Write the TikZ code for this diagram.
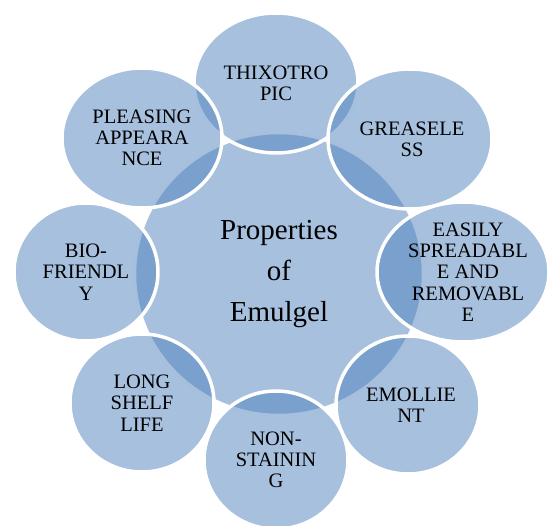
\documentclass[tikz,border=0pt]{standalone}
\usepackage{fontspec}
\setmainfont{Liberation Serif}
\usetikzlibrary{shapes.geometric}
\definecolor{emblue}{HTML}{4F81BD}

\begin{document}
\begin{tikzpicture}[
  x=1pt, y=-1pt,
  blob/.style={ellipse, draw=white, line width=3.5pt, fill=emblue, fill opacity=0.5, inner sep=0pt},
  wide/.style={blob, minimum width=164pt, minimum height=140pt},
  narrow/.style={blob, minimum width=144pt, minimum height=138pt},
  hub/.style={blob, minimum width=289pt, minimum height=283pt},
  txt/.style={align=center, font=\fontsize{20.5}{21.3}\selectfont},
  title/.style={align=center, font=\fontsize{29}{41}\selectfont}]
  \useasboundingbox (0,0) rectangle (549,526);

  % discs, drawn clockwise from the top so each one lies over the last
  \node[hub] (hub) at (279,274) {};
  \node[wide] (thix) at (276,83) {};
  \node[wide] (grease) at (410,139) {};
  \node[wide, minimum width=172pt] (easy) at (463,272) {};
  \node[narrow] (emol) at (408,405) {};
  \node[narrow] (nonst) at (276,460) {};
  \node[narrow] (shelf) at (142,403) {};
  \node[narrow] (bio) at (86,272) {};
  \node[wide, minimum width=160pt] (pleas) at (142,138) {};

  % texts on top
  \node[title] (hub-t) at (hub) {Properties\\of\\Emulgel};
  \node[txt] (thix-t) at (thix) {THIXOTRO\\PIC};
  \node[txt] (grease-t) at ([xshift=2pt]grease.center) {GREASELE\\SS};
  \node[txt] (easy-t) at ([xshift=5pt]easy.center) {EASILY\\SPREADABL\\E AND\\REMOVABL\\E};
  \node[txt] (emol-t) at ([xshift=3pt]emol.center) {EMOLLIE\\NT};
  \node[txt] (nonst-t) at (nonst) {NON-\\STAININ\\G};
  \node[txt] (shelf-t) at (shelf) {LONG\\SHELF\\LIFE};
  \node[txt] (bio-t) at (bio) {BIO-\\FRIENDL\\Y};
  \node[txt] (pleas-t) at (pleas) {PLEASING\\APPEARA\\NCE};
\end{tikzpicture}
\end{document}
